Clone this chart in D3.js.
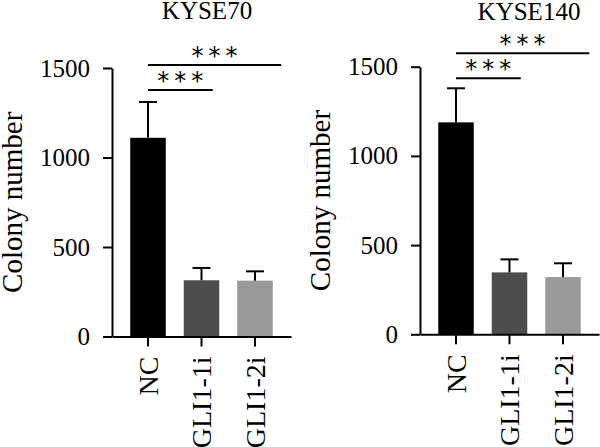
<!DOCTYPE html>
<html>
<head>
<meta charset="utf-8">
<script src="https://cdn.jsdelivr.net/npm/d3@7"></script>
<style>
  body { margin: 0; background: #fff; }
  svg { display: block; }
  text { font-family: "Liberation Serif", "Times New Roman", serif; fill: #000; }
  .axis path, .axis line { stroke: #000; stroke-width: 2; }
  .stars { font-family: "DejaVu Sans", sans-serif; }
</style>
</head>
<body>
<svg id="chart" width="600" height="447"></svg>
<script>
const categories = ["NC", "GLI1-1i", "GLI1-2i"];
const yTicks = [0, 500, 1000, 1500];
const barColors = ["#000000", "#4d4d4d", "#9a9a9a"];

const kyse70Means  = [1110, 314, 312];
const kyse70Errors = [200, 69, 52];
const kyse140Means  = [1188, 347, 321];
const kyse140Errors = [191, 73, 77];

// significance brackets: from, to, height (colony number units)
const kyse70Sig  = [["NC", "GLI1-1i", 1377], ["NC", "GLI1-2i", 1517]];
const kyse140Sig = [["NC", "GLI1-1i", 1435], ["NC", "GLI1-2i", 1575]];

const panels = [
  { title: "KYSE70",  means: kyse70Means,  errors: kyse70Errors,  sig: kyse70Sig,
    dx: 0,   top: 68,   bottom: 336.5, titleX: 207, titleY: 19 },
  { title: "KYSE140", means: kyse140Means, errors: kyse140Errors, sig: kyse140Sig,
    dx: 308, top: 66.7, bottom: 334.3, titleX: 529, titleY: 19.5 }
];

const svg = d3.select("#chart");

panels.forEach(p => {
  const g = svg.append("g").attr("transform", `translate(${p.dx},0)`);

  const x = d3.scaleBand()
    .domain(categories)
    .range([112, 291])
    .paddingInner(0.336)
    .paddingOuter(0.341);

  const y = d3.scaleLinear().domain([0, 1500]).range([p.bottom, p.top]);

  const rows = categories.map((c, i) => ({ cat: c, mean: p.means[i], err: p.errors[i], color: barColors[i] }));

  // bars
  g.selectAll("rect.bar")
    .data(rows)
    .join("rect")
    .attr("class", "bar")
    .attr("x", d => x(d.cat))
    .attr("width", x.bandwidth())
    .attr("y", d => y(d.mean))
    .attr("height", d => y(0) - y(d.mean))
    .attr("fill", d => d.color);

  // error bars (upper only)
  const eb = g.selectAll("g.err").data(rows).join("g").attr("class", "err");
  eb.append("line")
    .attr("x1", d => x(d.cat) + x.bandwidth() / 2)
    .attr("x2", d => x(d.cat) + x.bandwidth() / 2)
    .attr("y1", d => y(d.mean))
    .attr("y2", d => y(d.mean + d.err))
    .attr("stroke", "#000").attr("stroke-width", 2);
  eb.append("line")
    .attr("x1", d => x(d.cat) + x.bandwidth() / 2 - 9)
    .attr("x2", d => x(d.cat) + x.bandwidth() / 2 + 9)
    .attr("y1", d => y(d.mean + d.err))
    .attr("y2", d => y(d.mean + d.err))
    .attr("stroke", "#000").attr("stroke-width", 2);

  // y axis
  g.append("g")
    .attr("class", "axis")
    .attr("transform", "translate(112,0)")
    .call(d3.axisLeft(y).tickValues(yTicks).tickFormat(d3.format("d"))
      .tickSize(9).tickPadding(13).tickSizeOuter(0))
    .attr("font-family", null)
    .attr("font-size", 25);

  // x axis
  const xa = g.append("g")
    .attr("class", "axis")
    .attr("transform", `translate(0,${y(0)})`)
    .call(d3.axisBottom(x).tickSize(10).tickSizeOuter(0))
    .attr("font-family", null)
    .attr("font-size", 28);
  xa.selectAll("text")
    .attr("text-anchor", "end")
    .attr("transform", "rotate(-90)")
    .attr("x", -20)
    .attr("y", 0)
    .attr("dy", "0.34em");

  // y label
  g.append("text")
    .attr("transform", `translate(22,${(p.top + p.bottom) / 2}) rotate(-90)`)
    .attr("text-anchor", "middle")
    .style("font-size", "29px")
    .text("Colony number");

  // significance brackets
  const step = x.step();
  p.sig.forEach(([from, to, h], i) => {
    const x1 = x(from) + x.bandwidth() / 2;
    const x2 = x(to) + x.bandwidth() / 2 + (i === 0 ? 0.21 : 0.49) * step;
    g.append("line")
      .attr("x1", x1).attr("x2", x2)
      .attr("y1", y(h)).attr("y2", y(h))
      .attr("stroke", "#000").attr("stroke-width", 2);
    g.append("text")
      .attr("class", "stars")
      .attr("x", (x1 + x2) / 2 + 2.5)
      .attr("y", y(h) - 1)
      .attr("text-anchor", "middle")
      .style("font-size", "24px")
      .style("letter-spacing", "5px")
      .text("***");
  });

  // title
  svg.append("text")
    .attr("x", p.titleX)
    .attr("y", p.titleY)
    .attr("text-anchor", "middle")
    .style("font-size", "25px")
    .text(p.title);
});
</script>
</body>
</html>
